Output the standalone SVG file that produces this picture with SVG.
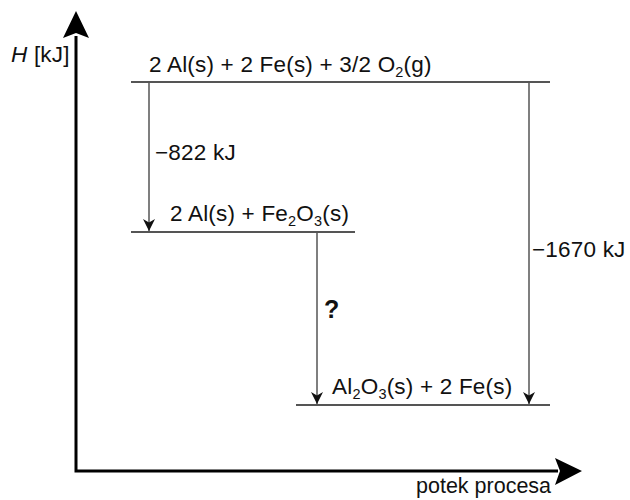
<svg xmlns="http://www.w3.org/2000/svg" width="630" height="500" viewBox="0 0 630 500">
<style>
text{font-family:"Liberation Sans",Arial,sans-serif;font-size:22.5px;letter-spacing:0.2px;fill:#111}
.sub{font-size:14.5px}
.axis{stroke:#000;stroke-width:3;fill:none}
.lvl{stroke:#555;stroke-width:2}
.arr{stroke:#555;stroke-width:1.5;marker-end:url(#ah)}
</style>
<defs>
<marker id="ah" markerUnits="userSpaceOnUse" markerWidth="12" markerHeight="12" refX="10" refY="5" viewBox="0 0 10 10" orient="auto">
<path d="M0,0 L10,5 L0,10 L3,5 Z" fill="#111"/>
</marker>
</defs>
<g id="axes">
<path class="axis" d="M76,36 L76,471 L558,471"/>
<path d="M76,11 L89,38 L76,33 L63,38 Z" fill="#000"/>
<path d="M582,471 L555,458 L560,471 L555,485 Z" fill="#000"/>
<text x="11" y="62"><tspan font-style="italic">H</tspan> [kJ]</text>
<text x="416" y="493" style="font-size:21.5px;letter-spacing:0">potek procesa</text>
</g>
<g id="level-top">
<line class="lvl" x1="131" y1="82" x2="550" y2="82"/>
<text x="149" y="72">2 Al(s) + 2 Fe(s) + 3/2 O<tspan class="sub" dy="5">2</tspan><tspan dy="-5">(g)</tspan></text>
</g>
<g id="level-mid">
<line class="lvl" x1="131" y1="232" x2="355" y2="232"/>
<text x="170" y="221">2 Al(s) + Fe<tspan class="sub" dy="5">2</tspan><tspan dy="-5">O</tspan><tspan class="sub" dy="5">3</tspan><tspan dy="-5">(s)</tspan></text>
</g>
<g id="level-bottom">
<line class="lvl" x1="296" y1="405" x2="550" y2="405"/>
<text x="332" y="394">Al<tspan class="sub" dy="5">2</tspan><tspan dy="-5">O</tspan><tspan class="sub" dy="5">3</tspan><tspan dy="-5">(s) + 2 Fe(s)</tspan></text>
</g>
<g id="connectors">
<line class="arr" x1="149" y1="83" x2="149" y2="231"/>
<line class="arr" x1="317" y1="233" x2="317" y2="404"/>
<line class="arr" x1="529" y1="83" x2="529" y2="404"/>
<text x="155" y="160">−822 kJ</text>
<text x="324" y="318" font-weight="bold" style="font-size:25px">?</text>
<text x="532" y="257">−1670 kJ</text>
</g>
</svg>
